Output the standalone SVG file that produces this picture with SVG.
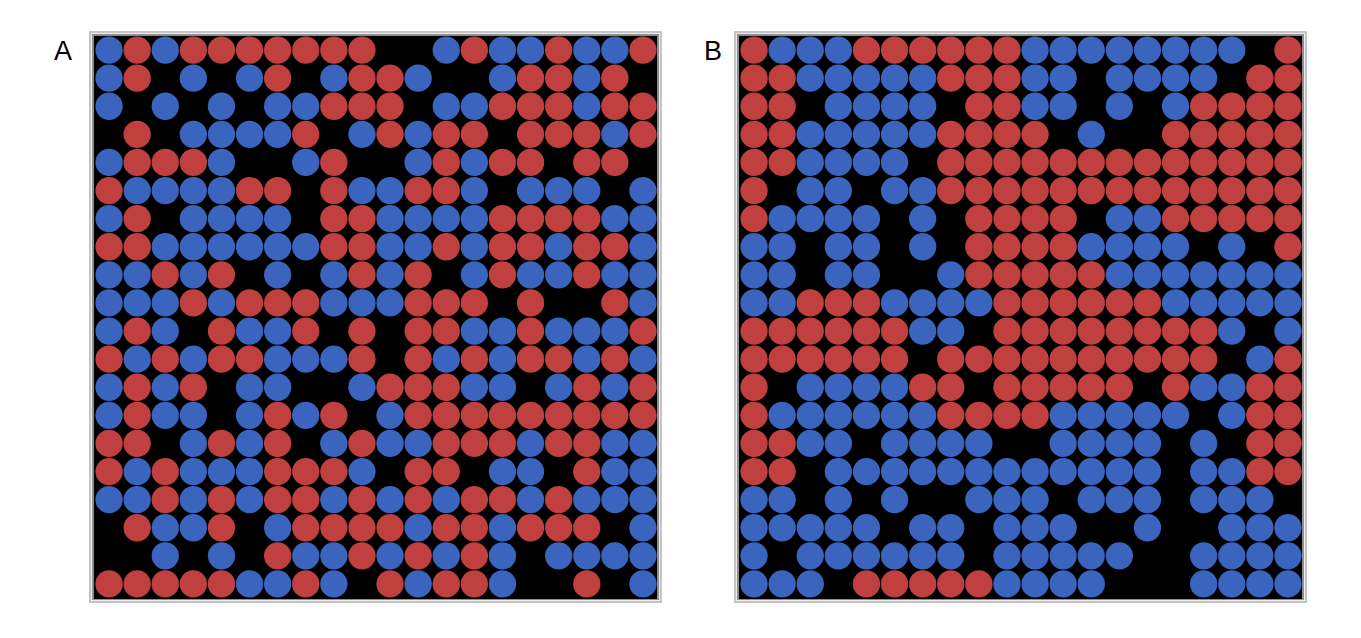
<svg xmlns="http://www.w3.org/2000/svg" width="1361" height="638" viewBox="0 0 1361 638">
<style>
.lbl{font-family:"Liberation Sans","Open Sans",Arial,sans-serif;font-size:27px;fill:#000}
.f1{fill:#c4c4c4}.f2{fill:#ececec}.f3{fill:#8f8f8f}.bg{fill:#000}
</style>
<defs>
<circle id="r" r=".486" fill="#c04040"/>
<circle id="b" r=".486" fill="#3a64bd"/>
</defs>
<rect width="1361" height="638" fill="#fff"/>
<g id="panelA">
<text class="lbl" x="54" y="60">A</text>
<rect class="f1" x="89" y="31" width="573" height="572"/>
<rect class="f2" x="91" y="33" width="569" height="568"/>
<rect class="f3" x="92" y="34" width="567" height="566"/>
<rect class="bg" x="94" y="36" width="563" height="563"/>
<g transform="translate(109.05 50.05) scale(28.1)">
<g><use href="#b" x="0"/><use href="#r" x="1"/><use href="#b" x="2"/><use href="#r" x="3"/><use href="#r" x="4"/><use href="#r" x="5"/><use href="#r" x="6"/><use href="#r" x="7"/><use href="#r" x="8"/><use href="#r" x="9"/><use href="#b" x="12"/><use href="#r" x="13"/><use href="#b" x="14"/><use href="#b" x="15"/><use href="#r" x="16"/><use href="#b" x="17"/><use href="#b" x="18"/><use href="#r" x="19"/></g>
<g transform="translate(0 1)"><use href="#b" x="0"/><use href="#r" x="1"/><use href="#b" x="3"/><use href="#b" x="5"/><use href="#r" x="6"/><use href="#b" x="8"/><use href="#r" x="9"/><use href="#r" x="10"/><use href="#b" x="11"/><use href="#b" x="14"/><use href="#r" x="15"/><use href="#r" x="16"/><use href="#b" x="17"/><use href="#r" x="18"/></g>
<g transform="translate(0 2)"><use href="#b" x="0"/><use href="#b" x="2"/><use href="#b" x="4"/><use href="#b" x="6"/><use href="#b" x="7"/><use href="#r" x="8"/><use href="#r" x="9"/><use href="#r" x="10"/><use href="#b" x="12"/><use href="#b" x="13"/><use href="#r" x="14"/><use href="#r" x="15"/><use href="#r" x="16"/><use href="#b" x="17"/><use href="#r" x="18"/><use href="#r" x="19"/></g>
<g transform="translate(0 3)"><use href="#r" x="1"/><use href="#b" x="3"/><use href="#b" x="4"/><use href="#b" x="5"/><use href="#b" x="6"/><use href="#r" x="7"/><use href="#b" x="9"/><use href="#r" x="10"/><use href="#b" x="11"/><use href="#r" x="12"/><use href="#r" x="13"/><use href="#r" x="15"/><use href="#r" x="16"/><use href="#r" x="17"/><use href="#b" x="18"/><use href="#r" x="19"/></g>
<g transform="translate(0 4)"><use href="#b" x="0"/><use href="#r" x="1"/><use href="#r" x="2"/><use href="#r" x="3"/><use href="#b" x="4"/><use href="#b" x="7"/><use href="#r" x="8"/><use href="#b" x="11"/><use href="#r" x="12"/><use href="#b" x="13"/><use href="#r" x="14"/><use href="#r" x="15"/><use href="#r" x="17"/><use href="#r" x="18"/></g>
<g transform="translate(0 5)"><use href="#r" x="0"/><use href="#b" x="1"/><use href="#b" x="2"/><use href="#b" x="3"/><use href="#b" x="4"/><use href="#r" x="5"/><use href="#r" x="6"/><use href="#r" x="8"/><use href="#b" x="9"/><use href="#b" x="10"/><use href="#r" x="11"/><use href="#r" x="12"/><use href="#b" x="13"/><use href="#b" x="15"/><use href="#b" x="16"/><use href="#b" x="17"/><use href="#b" x="19"/></g>
<g transform="translate(0 6)"><use href="#b" x="0"/><use href="#r" x="1"/><use href="#b" x="3"/><use href="#b" x="4"/><use href="#b" x="5"/><use href="#b" x="6"/><use href="#r" x="8"/><use href="#r" x="9"/><use href="#b" x="10"/><use href="#b" x="11"/><use href="#b" x="12"/><use href="#b" x="13"/><use href="#r" x="14"/><use href="#r" x="15"/><use href="#r" x="16"/><use href="#r" x="17"/><use href="#b" x="18"/><use href="#b" x="19"/></g>
<g transform="translate(0 7)"><use href="#r" x="0"/><use href="#r" x="1"/><use href="#b" x="2"/><use href="#b" x="3"/><use href="#b" x="4"/><use href="#b" x="5"/><use href="#b" x="6"/><use href="#b" x="7"/><use href="#r" x="8"/><use href="#r" x="9"/><use href="#b" x="10"/><use href="#b" x="11"/><use href="#r" x="12"/><use href="#b" x="13"/><use href="#r" x="14"/><use href="#r" x="15"/><use href="#b" x="16"/><use href="#r" x="17"/><use href="#r" x="18"/><use href="#b" x="19"/></g>
<g transform="translate(0 8)"><use href="#b" x="0"/><use href="#b" x="1"/><use href="#r" x="2"/><use href="#b" x="3"/><use href="#r" x="4"/><use href="#b" x="6"/><use href="#b" x="8"/><use href="#r" x="9"/><use href="#b" x="10"/><use href="#r" x="11"/><use href="#b" x="13"/><use href="#r" x="14"/><use href="#b" x="15"/><use href="#b" x="16"/><use href="#r" x="17"/><use href="#b" x="18"/><use href="#b" x="19"/></g>
<g transform="translate(0 9)"><use href="#b" x="0"/><use href="#b" x="1"/><use href="#b" x="2"/><use href="#r" x="3"/><use href="#b" x="4"/><use href="#r" x="5"/><use href="#r" x="6"/><use href="#r" x="7"/><use href="#b" x="8"/><use href="#b" x="9"/><use href="#b" x="10"/><use href="#r" x="11"/><use href="#r" x="12"/><use href="#r" x="13"/><use href="#r" x="15"/><use href="#r" x="18"/><use href="#b" x="19"/></g>
<g transform="translate(0 10)"><use href="#b" x="0"/><use href="#r" x="1"/><use href="#b" x="2"/><use href="#r" x="4"/><use href="#b" x="5"/><use href="#b" x="6"/><use href="#r" x="7"/><use href="#r" x="9"/><use href="#r" x="11"/><use href="#r" x="12"/><use href="#b" x="13"/><use href="#b" x="14"/><use href="#r" x="15"/><use href="#b" x="16"/><use href="#b" x="17"/><use href="#b" x="18"/><use href="#r" x="19"/></g>
<g transform="translate(0 11)"><use href="#r" x="0"/><use href="#b" x="1"/><use href="#r" x="2"/><use href="#b" x="3"/><use href="#r" x="4"/><use href="#r" x="5"/><use href="#b" x="6"/><use href="#b" x="7"/><use href="#b" x="8"/><use href="#r" x="9"/><use href="#r" x="11"/><use href="#b" x="12"/><use href="#r" x="13"/><use href="#b" x="14"/><use href="#r" x="15"/><use href="#r" x="16"/><use href="#b" x="17"/><use href="#r" x="18"/><use href="#b" x="19"/></g>
<g transform="translate(0 12)"><use href="#b" x="0"/><use href="#r" x="1"/><use href="#b" x="2"/><use href="#r" x="3"/><use href="#b" x="5"/><use href="#b" x="6"/><use href="#b" x="9"/><use href="#r" x="10"/><use href="#r" x="11"/><use href="#r" x="12"/><use href="#b" x="13"/><use href="#b" x="14"/><use href="#b" x="16"/><use href="#r" x="17"/><use href="#b" x="18"/><use href="#r" x="19"/></g>
<g transform="translate(0 13)"><use href="#b" x="0"/><use href="#r" x="1"/><use href="#b" x="2"/><use href="#b" x="3"/><use href="#b" x="5"/><use href="#r" x="6"/><use href="#b" x="7"/><use href="#r" x="8"/><use href="#b" x="10"/><use href="#r" x="11"/><use href="#r" x="12"/><use href="#r" x="13"/><use href="#r" x="14"/><use href="#r" x="15"/><use href="#r" x="16"/><use href="#r" x="17"/><use href="#r" x="18"/><use href="#r" x="19"/></g>
<g transform="translate(0 14)"><use href="#r" x="0"/><use href="#r" x="1"/><use href="#b" x="3"/><use href="#r" x="4"/><use href="#b" x="5"/><use href="#r" x="6"/><use href="#b" x="8"/><use href="#r" x="9"/><use href="#b" x="10"/><use href="#b" x="11"/><use href="#r" x="12"/><use href="#r" x="13"/><use href="#r" x="14"/><use href="#b" x="15"/><use href="#r" x="16"/><use href="#r" x="17"/><use href="#b" x="18"/><use href="#b" x="19"/></g>
<g transform="translate(0 15)"><use href="#r" x="0"/><use href="#b" x="1"/><use href="#r" x="2"/><use href="#b" x="3"/><use href="#b" x="4"/><use href="#b" x="5"/><use href="#r" x="6"/><use href="#r" x="7"/><use href="#r" x="8"/><use href="#b" x="9"/><use href="#r" x="11"/><use href="#r" x="12"/><use href="#b" x="14"/><use href="#b" x="15"/><use href="#r" x="17"/><use href="#b" x="18"/><use href="#b" x="19"/></g>
<g transform="translate(0 16)"><use href="#b" x="0"/><use href="#b" x="1"/><use href="#r" x="2"/><use href="#b" x="3"/><use href="#r" x="4"/><use href="#b" x="5"/><use href="#r" x="6"/><use href="#r" x="7"/><use href="#b" x="8"/><use href="#r" x="9"/><use href="#b" x="10"/><use href="#r" x="11"/><use href="#b" x="12"/><use href="#r" x="13"/><use href="#r" x="14"/><use href="#b" x="15"/><use href="#r" x="16"/><use href="#b" x="17"/><use href="#b" x="18"/><use href="#b" x="19"/></g>
<g transform="translate(0 17)"><use href="#r" x="1"/><use href="#b" x="2"/><use href="#b" x="3"/><use href="#r" x="4"/><use href="#b" x="6"/><use href="#r" x="7"/><use href="#r" x="8"/><use href="#r" x="9"/><use href="#r" x="10"/><use href="#b" x="11"/><use href="#r" x="12"/><use href="#r" x="13"/><use href="#b" x="14"/><use href="#r" x="15"/><use href="#r" x="16"/><use href="#r" x="17"/><use href="#b" x="19"/></g>
<g transform="translate(0 18)"><use href="#b" x="2"/><use href="#b" x="4"/><use href="#r" x="6"/><use href="#b" x="7"/><use href="#b" x="8"/><use href="#r" x="9"/><use href="#b" x="10"/><use href="#r" x="11"/><use href="#b" x="12"/><use href="#r" x="13"/><use href="#b" x="14"/><use href="#b" x="16"/><use href="#b" x="17"/><use href="#b" x="18"/><use href="#b" x="19"/></g>
<g transform="translate(0 19)"><use href="#r" x="0"/><use href="#r" x="1"/><use href="#r" x="2"/><use href="#r" x="3"/><use href="#r" x="4"/><use href="#b" x="5"/><use href="#b" x="6"/><use href="#r" x="7"/><use href="#b" x="8"/><use href="#r" x="10"/><use href="#b" x="11"/><use href="#r" x="12"/><use href="#r" x="13"/><use href="#b" x="14"/><use href="#r" x="17"/><use href="#b" x="19"/></g>
</g>
</g>
<g id="panelB">
<text class="lbl" x="704" y="60">B</text>
<rect class="f1" x="734" y="31" width="573" height="572"/>
<rect class="f2" x="736" y="33" width="569" height="568"/>
<rect class="f3" x="737" y="34" width="567" height="566"/>
<rect class="bg" x="739" y="36" width="563" height="563"/>
<g transform="translate(754.05 50.05) scale(28.1)">
<g><use href="#r" x="0"/><use href="#b" x="1"/><use href="#b" x="2"/><use href="#b" x="3"/><use href="#r" x="4"/><use href="#r" x="5"/><use href="#r" x="6"/><use href="#r" x="7"/><use href="#r" x="8"/><use href="#r" x="9"/><use href="#b" x="10"/><use href="#b" x="11"/><use href="#b" x="12"/><use href="#b" x="13"/><use href="#b" x="14"/><use href="#b" x="15"/><use href="#b" x="16"/><use href="#b" x="17"/><use href="#r" x="19"/></g>
<g transform="translate(0 1)"><use href="#r" x="0"/><use href="#r" x="1"/><use href="#b" x="2"/><use href="#b" x="3"/><use href="#b" x="4"/><use href="#b" x="5"/><use href="#b" x="6"/><use href="#r" x="7"/><use href="#r" x="8"/><use href="#r" x="9"/><use href="#b" x="10"/><use href="#b" x="11"/><use href="#b" x="13"/><use href="#b" x="14"/><use href="#b" x="15"/><use href="#b" x="16"/><use href="#r" x="18"/><use href="#r" x="19"/></g>
<g transform="translate(0 2)"><use href="#r" x="0"/><use href="#r" x="1"/><use href="#b" x="3"/><use href="#b" x="4"/><use href="#b" x="5"/><use href="#b" x="6"/><use href="#r" x="8"/><use href="#r" x="9"/><use href="#b" x="10"/><use href="#b" x="11"/><use href="#b" x="13"/><use href="#b" x="15"/><use href="#r" x="16"/><use href="#r" x="17"/><use href="#r" x="18"/><use href="#r" x="19"/></g>
<g transform="translate(0 3)"><use href="#r" x="0"/><use href="#r" x="1"/><use href="#b" x="2"/><use href="#b" x="3"/><use href="#b" x="4"/><use href="#b" x="5"/><use href="#b" x="6"/><use href="#r" x="7"/><use href="#r" x="8"/><use href="#r" x="9"/><use href="#r" x="10"/><use href="#b" x="12"/><use href="#r" x="15"/><use href="#r" x="16"/><use href="#r" x="17"/><use href="#r" x="18"/><use href="#r" x="19"/></g>
<g transform="translate(0 4)"><use href="#r" x="0"/><use href="#r" x="1"/><use href="#b" x="2"/><use href="#b" x="3"/><use href="#b" x="4"/><use href="#b" x="5"/><use href="#r" x="7"/><use href="#r" x="8"/><use href="#r" x="9"/><use href="#r" x="10"/><use href="#r" x="11"/><use href="#r" x="12"/><use href="#r" x="13"/><use href="#r" x="14"/><use href="#r" x="15"/><use href="#r" x="16"/><use href="#r" x="17"/><use href="#r" x="18"/><use href="#r" x="19"/></g>
<g transform="translate(0 5)"><use href="#r" x="0"/><use href="#b" x="2"/><use href="#b" x="3"/><use href="#b" x="5"/><use href="#b" x="6"/><use href="#r" x="7"/><use href="#r" x="8"/><use href="#r" x="9"/><use href="#r" x="10"/><use href="#r" x="11"/><use href="#r" x="12"/><use href="#r" x="13"/><use href="#r" x="14"/><use href="#r" x="15"/><use href="#r" x="16"/><use href="#r" x="17"/><use href="#r" x="18"/><use href="#r" x="19"/></g>
<g transform="translate(0 6)"><use href="#r" x="0"/><use href="#b" x="1"/><use href="#b" x="2"/><use href="#b" x="3"/><use href="#b" x="4"/><use href="#b" x="6"/><use href="#r" x="8"/><use href="#r" x="9"/><use href="#r" x="10"/><use href="#r" x="11"/><use href="#b" x="13"/><use href="#b" x="14"/><use href="#r" x="15"/><use href="#r" x="16"/><use href="#r" x="17"/><use href="#r" x="18"/><use href="#r" x="19"/></g>
<g transform="translate(0 7)"><use href="#b" x="0"/><use href="#b" x="1"/><use href="#b" x="3"/><use href="#b" x="4"/><use href="#b" x="6"/><use href="#r" x="8"/><use href="#r" x="9"/><use href="#r" x="10"/><use href="#r" x="11"/><use href="#b" x="12"/><use href="#b" x="13"/><use href="#b" x="14"/><use href="#b" x="15"/><use href="#b" x="17"/><use href="#r" x="19"/></g>
<g transform="translate(0 8)"><use href="#b" x="0"/><use href="#b" x="1"/><use href="#b" x="3"/><use href="#b" x="4"/><use href="#b" x="7"/><use href="#r" x="8"/><use href="#r" x="9"/><use href="#r" x="10"/><use href="#r" x="11"/><use href="#r" x="12"/><use href="#b" x="13"/><use href="#b" x="14"/><use href="#b" x="15"/><use href="#b" x="16"/><use href="#b" x="17"/><use href="#b" x="18"/><use href="#b" x="19"/></g>
<g transform="translate(0 9)"><use href="#b" x="0"/><use href="#b" x="1"/><use href="#r" x="2"/><use href="#r" x="3"/><use href="#r" x="4"/><use href="#b" x="5"/><use href="#b" x="6"/><use href="#b" x="7"/><use href="#b" x="8"/><use href="#r" x="9"/><use href="#r" x="10"/><use href="#r" x="11"/><use href="#r" x="12"/><use href="#r" x="13"/><use href="#r" x="14"/><use href="#b" x="15"/><use href="#b" x="16"/><use href="#b" x="17"/><use href="#b" x="18"/><use href="#b" x="19"/></g>
<g transform="translate(0 10)"><use href="#r" x="0"/><use href="#r" x="1"/><use href="#r" x="2"/><use href="#r" x="3"/><use href="#r" x="4"/><use href="#r" x="5"/><use href="#b" x="6"/><use href="#b" x="7"/><use href="#r" x="9"/><use href="#r" x="10"/><use href="#r" x="11"/><use href="#r" x="12"/><use href="#r" x="13"/><use href="#r" x="14"/><use href="#r" x="15"/><use href="#r" x="16"/><use href="#b" x="17"/><use href="#b" x="19"/></g>
<g transform="translate(0 11)"><use href="#r" x="0"/><use href="#r" x="1"/><use href="#r" x="2"/><use href="#r" x="3"/><use href="#r" x="4"/><use href="#r" x="5"/><use href="#r" x="7"/><use href="#r" x="8"/><use href="#r" x="9"/><use href="#r" x="10"/><use href="#r" x="11"/><use href="#r" x="12"/><use href="#r" x="13"/><use href="#r" x="14"/><use href="#r" x="15"/><use href="#r" x="16"/><use href="#b" x="18"/><use href="#r" x="19"/></g>
<g transform="translate(0 12)"><use href="#r" x="0"/><use href="#b" x="2"/><use href="#b" x="3"/><use href="#b" x="4"/><use href="#b" x="5"/><use href="#r" x="6"/><use href="#r" x="7"/><use href="#r" x="9"/><use href="#r" x="10"/><use href="#r" x="11"/><use href="#r" x="12"/><use href="#r" x="13"/><use href="#r" x="15"/><use href="#b" x="16"/><use href="#b" x="17"/><use href="#r" x="18"/><use href="#r" x="19"/></g>
<g transform="translate(0 13)"><use href="#r" x="0"/><use href="#b" x="1"/><use href="#b" x="2"/><use href="#b" x="3"/><use href="#b" x="4"/><use href="#b" x="5"/><use href="#b" x="6"/><use href="#r" x="7"/><use href="#r" x="8"/><use href="#r" x="9"/><use href="#r" x="10"/><use href="#b" x="11"/><use href="#b" x="12"/><use href="#b" x="13"/><use href="#b" x="14"/><use href="#b" x="15"/><use href="#b" x="17"/><use href="#r" x="18"/><use href="#r" x="19"/></g>
<g transform="translate(0 14)"><use href="#r" x="0"/><use href="#r" x="1"/><use href="#b" x="2"/><use href="#b" x="3"/><use href="#b" x="5"/><use href="#b" x="6"/><use href="#b" x="7"/><use href="#b" x="8"/><use href="#b" x="11"/><use href="#b" x="12"/><use href="#b" x="13"/><use href="#b" x="14"/><use href="#b" x="16"/><use href="#r" x="18"/><use href="#r" x="19"/></g>
<g transform="translate(0 15)"><use href="#r" x="0"/><use href="#r" x="1"/><use href="#b" x="3"/><use href="#b" x="4"/><use href="#b" x="5"/><use href="#b" x="6"/><use href="#b" x="7"/><use href="#b" x="8"/><use href="#b" x="9"/><use href="#b" x="10"/><use href="#b" x="11"/><use href="#b" x="12"/><use href="#b" x="13"/><use href="#b" x="14"/><use href="#b" x="16"/><use href="#b" x="17"/><use href="#r" x="18"/><use href="#r" x="19"/></g>
<g transform="translate(0 16)"><use href="#b" x="0"/><use href="#b" x="1"/><use href="#b" x="3"/><use href="#b" x="5"/><use href="#b" x="8"/><use href="#b" x="9"/><use href="#b" x="10"/><use href="#b" x="12"/><use href="#b" x="13"/><use href="#b" x="14"/><use href="#b" x="16"/><use href="#b" x="17"/><use href="#b" x="18"/></g>
<g transform="translate(0 17)"><use href="#b" x="0"/><use href="#b" x="1"/><use href="#b" x="2"/><use href="#b" x="3"/><use href="#b" x="4"/><use href="#b" x="6"/><use href="#b" x="7"/><use href="#b" x="9"/><use href="#b" x="10"/><use href="#b" x="11"/><use href="#b" x="14"/><use href="#b" x="17"/><use href="#b" x="18"/><use href="#b" x="19"/></g>
<g transform="translate(0 18)"><use href="#b" x="0"/><use href="#b" x="2"/><use href="#b" x="3"/><use href="#b" x="4"/><use href="#b" x="5"/><use href="#b" x="6"/><use href="#b" x="7"/><use href="#b" x="9"/><use href="#b" x="10"/><use href="#b" x="11"/><use href="#b" x="12"/><use href="#b" x="13"/><use href="#b" x="16"/><use href="#b" x="17"/><use href="#b" x="18"/><use href="#b" x="19"/></g>
<g transform="translate(0 19)"><use href="#b" x="0"/><use href="#b" x="1"/><use href="#b" x="2"/><use href="#r" x="4"/><use href="#r" x="5"/><use href="#r" x="6"/><use href="#r" x="7"/><use href="#r" x="8"/><use href="#b" x="9"/><use href="#b" x="10"/><use href="#b" x="11"/><use href="#b" x="12"/><use href="#b" x="16"/><use href="#b" x="17"/><use href="#b" x="18"/><use href="#b" x="19"/></g>
</g>
</g>
</svg>
